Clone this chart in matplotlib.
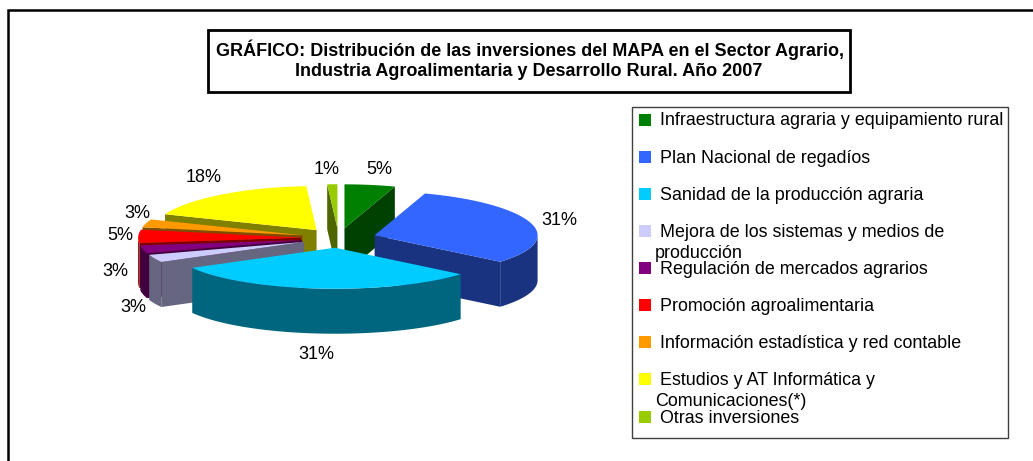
import numpy as np
import matplotlib
matplotlib.use('Agg')
import matplotlib.pyplot as plt
from matplotlib.patches import Polygon, Rectangle

plt.rcParams['font.family'] = ['Liberation Sans', 'DejaVu Sans']

# data
categories = ["Infraestructura agraria y equipamiento rural", "Plan Nacional de regadíos",
              "Sanidad de la producción agraria", "Mejora de los sistemas y medios de\nproducción",
              "Regulación de mercados agrarios", "Promoción agroalimentaria",
              "Información estadística y red contable", "Estudios y AT Informática y\nComunicaciones(*)",
              "Otras inversiones"]
values = [5, 31, 31, 3, 3, 5, 3, 18, 1]
colors = ['#008000', '#3366FF', '#00CCFF', '#CCCCFF', '#800080', '#FF0000', '#FF9900', '#FFFF00', '#99CC00']
title_lines = ["GRÁFICO: Distribución de las inversiones del MAPA en el Sector Agrario,",
               "Industria Agroalimentaria y Desarrollo Rural. Año 2007"]

# label and legend positions, in pixels
label_x = [379, 559, 316, 133, 115, 120, 137, 204, 327]
label_y = [169, 220, 354, 307, 271, 235, 213, 177, 169]
legend_y = [120.5, 158, 195, 232, 269, 306, 343, 380, 418]

# pie geometry
cx, cy = 338.6, 238
rx, ry = 163, 42.5
tilt = 1.5  # back of the pie is drawn a bit deeper than the front
depth = 45
explode = 0.23

fig = plt.figure(figsize=(10.33, 4.61), dpi=100)
ax = fig.add_axes([0, 0, 1, 1])
ax.set_xlim(0, 1033)
ax.set_ylim(461, 0)
ax.axis('off')


def shade(c):
    return tuple(v * 0.5 for v in matplotlib.colors.to_rgb(c))


def arc(tip, a, b, n=60):
    t = np.linspace(a, b, n)
    return np.column_stack([tip[0] + rx * np.sin(t), tip[1] - (ry + tilt * np.cos(t)) * np.cos(t)])


def draw_slice(a, b, col):
    mid = (a + b) / 2
    tip = np.array([cx + explode * rx * np.sin(mid), cy - explode * ry * np.cos(mid)])
    down = np.array([0, depth])
    dark = shade(col)
    top = arc(tip, a, b)
    # cut faces, only the ones turned to the viewer
    if np.sin(a) < 0:
        ax.add_patch(Polygon([tip, top[0], top[0] + down, tip + down], fc=dark, ec='none'))
    if np.sin(b) > 0:
        ax.add_patch(Polygon([tip, top[-1], top[-1] + down, tip + down], fc=dark, ec='none'))
    # outer wall, front half only
    lo, hi = max(a, np.pi / 2), min(b, 3 * np.pi / 2)
    if lo < hi:
        wall = arc(tip, lo, hi)
        ax.add_patch(Polygon(np.vstack([wall, wall[::-1] + down]), fc=dark, ec='none'))
    ax.add_patch(Polygon(np.vstack([tip, top]), fc=col, ec='none'))


edges = np.cumsum([0] + values) / sum(values) * 2 * np.pi
slices = list(zip(edges[:-1], edges[1:], colors))
# paint from back to front
slices.sort(key=lambda s: -np.cos((s[0] + s[1]) / 2))
for a, b, col in slices:
    draw_slice(a, b, col)

for x, y, v in zip(label_x, label_y, values):
    ax.text(x, y, f"{v}%", fontsize=13, ha='center', va='center', color='black')

# outer frame
ax.plot([8, 8, 1033], [461, 10.5, 10.5], color='black', lw=1.8, solid_capstyle='butt', solid_joinstyle='miter')

# title box
ax.add_patch(Rectangle((207.5, 30.5), 642, 62, fc='white', ec='black', lw=2))
ax.text(530, 50, title_lines[0], fontsize=13, fontweight='bold', ha='center', va='center')
ax.text(529, 72, title_lines[1], fontsize=13, fontweight='bold', ha='center', va='center')

# legend
ax.add_patch(Rectangle((631.5, 107), 376, 331, fc='white', ec='#404040', lw=1))
for name, col, y in zip(categories, colors, legend_y):
    ax.add_patch(Rectangle((639, y - 7), 12, 12, fc=col, ec='none'))
    lines = name.split('\n')
    ax.text(660, y, lines[0], fontsize=12.9, ha='left', va='center')
    if len(lines) > 1:
        ax.text(655, y + 21, lines[1], fontsize=12.9, ha='left', va='center')

fig.savefig('out.png', dpi=100, facecolor='white')
